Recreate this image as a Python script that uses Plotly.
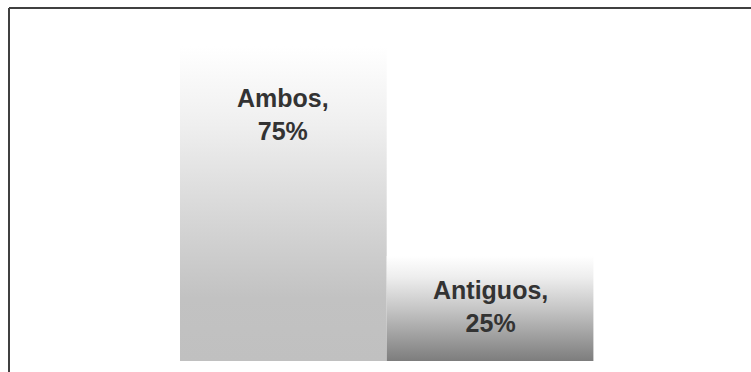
import plotly.graph_objects as go

# Share of respondents by group
categories = ["Ambos", "Antiguos"]
values = [75, 25]

# Vertical gradients per bar (0 = bottom, 1 = top)
gradients = [
    [[0.0, "#c0c0c0"], [0.2, "#c2c2c2"], [0.45, "#d6d6d6"], [0.75, "#efefef"], [0.95, "#fcfcfc"], [1.0, "#ffffff"]],
    [[0.0, "#7d7d7d"], [0.5, "#c6c6c6"], [0.8, "#eeeeee"], [1.0, "#ffffff"]],
]
# Pixel offset of each label's centre below its bar top
label_shift = [-68, -50]

W, H = 751, 372
fig = go.Figure()

for i, (cat, val) in enumerate(zip(categories, values)):
    x0, x1 = i - 0.5, i + 0.5
    fig.add_trace(go.Scatter(
        x=[x0, x1, x1, x0, x0],
        y=[0, 0, val, val, 0],
        mode="lines",
        line=dict(width=0),
        fill="toself",
        fillgradient=dict(type="vertical", colorscale=gradients[i]),
        hoverinfo="skip",
        showlegend=False,
    ))
    fig.add_annotation(
        x=i, y=val, xref="x", yref="y",
        text=f"{cat},<br>{val}%",
        showarrow=False, yanchor="middle", yshift=label_shift[i],
        font=dict(family="Liberation Sans", size=25, color="#333333", weight="bold"),
    )

# Frame: top and left edges only fall inside the canvas
fig.add_shape(type="line", xref="paper", yref="paper",
              x0=9 / W, x1=1.02, y0=1 - 8 / H, y1=1 - 8 / H,
              line=dict(color="#404040", width=2))
fig.add_shape(type="line", xref="paper", yref="paper",
              x0=9 / W, x1=9 / W, y0=-0.02, y1=1 - 8 / H,
              line=dict(color="#404040", width=2))

px_per_cat = 206.7
x_lo = -0.5 - 180 / px_per_cat
px_per_unit = 4.2
y_lo = -(H - 361) / px_per_unit
y_hi = 361 / px_per_unit

fig.update_layout(
    width=W, height=H,
    margin=dict(l=0, r=0, t=0, b=0),
    paper_bgcolor="white", plot_bgcolor="white",
    xaxis=dict(range=[x_lo, x_lo + W / px_per_cat], visible=False, fixedrange=True),
    yaxis=dict(range=[y_lo, y_hi], visible=False, fixedrange=True),
)

fig.write_html("out.html", config={"displayModeBar": False})
